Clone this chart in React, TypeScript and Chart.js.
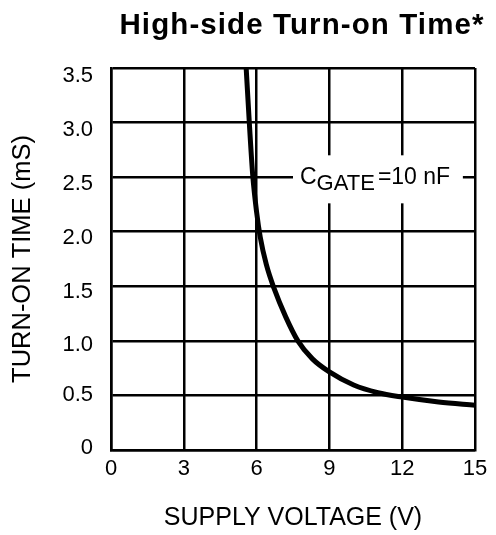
import React, { useEffect, useRef } from "react";
import { Chart, registerables } from "chart.js";

Chart.register(...registerables);

const FONT = '"Liberation Sans", Arial, Helvetica, sans-serif';

// Data
const supplyVoltage = [5.57, 5.71, 5.84, 6.0, 6.15, 6.4, 6.72, 7.2, 7.7, 8.3, 9.0, 10.0, 11.0, 12.0, 13.5, 15.0];
const turnOnTime = [3.5, 2.96, 2.52, 2.18, 1.95, 1.7, 1.48, 1.22, 1.0, 0.835, 0.715, 0.595, 0.525, 0.485, 0.44, 0.41];

const xTickValues = [0, 3, 6, 9, 12, 15];
const xTickLabels = ["0", "3", "6", "9", "12", "15"];
const yTickValues = [0, 0.5, 1.0, 1.5, 2.0, 2.5, 3.0, 3.5];
const yTickLabels = ["0", "0.5", "1.0", "1.5", "2.0", "2.5", "3.0", "3.5"];
// vertical nudge of each y tick label (px, + = down), as seen in the reference
const yLabelNudge = [-2, 0, 4, 5.5, 6.5, 7, 7.5, 7.5];

const TITLE = "High-side Turn-on Time*";
const X_TITLE = "SUPPLY VOLTAGE (V)";
const Y_TITLE = "TURN-ON TIME (mS)";

// annotation box in data units
const noteX = [7.5, 14.5];
const noteY = [2.26, 2.7];
const noteMain = "C";
const noteSub = "GATE";
const noteRest = "=10 nF";

const titlePlugin = {
  id: "customTitle",
  afterDraw(chart: any) {
    const ctx = chart.ctx;
    const { left, right } = chart.chartArea;
    ctx.save();
    ctx.font = `bold 29.5px ${FONT}`;
    try {
      ctx.letterSpacing = "1.1px";
    } catch (e) {}
    ctx.fillStyle = "#000";
    ctx.textAlign = "left";
    ctx.textBaseline = "alphabetic";
    const w = ctx.measureText(TITLE).width;
    const cx = (left + right) / 2 + 9;
    ctx.fillText(TITLE, cx - w / 2, 34);
    ctx.restore();
  },
};

const notePlugin = {
  id: "note",
  beforeDatasetsDraw(chart: any) {
    const ctx = chart.ctx;
    const xs = chart.scales.x;
    const ys = chart.scales.y;
    const x0 = xs.getPixelForValue(noteX[0]);
    const x1 = xs.getPixelForValue(noteX[1]);
    const y0 = ys.getPixelForValue(noteY[1]);
    const y1 = ys.getPixelForValue(noteY[0]);
    ctx.save();
    ctx.fillStyle = "#fff";
    ctx.fillRect(x0, y0, x1 - x0, y1 - y0);
    ctx.fillStyle = "#000";
    ctx.textBaseline = "alphabetic";
    ctx.textAlign = "left";
    const base = y1 - 19.5;
    let x = x0 + 7;
    ctx.font = `23px ${FONT}`;
    ctx.fillText(noteMain, x, base);
    x += ctx.measureText(noteMain).width;
    ctx.font = `22px ${FONT}`;
    ctx.fillText(noteSub, x, base + 6.5);
    x += ctx.measureText(noteSub).width + 3;
    ctx.font = `23px ${FONT}`;
    ctx.fillText(noteRest, x, base);
    ctx.restore();
  },
};

export default function App() {
  const ref = useRef<HTMLCanvasElement | null>(null);

  useEffect(() => {
    if (!ref.current) return;
    const chart = new Chart(ref.current, {
      type: "line",
      data: {
        datasets: [
          {
            data: supplyVoltage.map((v, i) => ({ x: v, y: turnOnTime[i] })),
            borderColor: "#000",
            borderWidth: 5,
            pointRadius: 0,
            fill: false,
            cubicInterpolationMode: "monotone",
            borderCapStyle: "butt",
          },
        ],
      },
      options: {
        responsive: false,
        animation: false,
        devicePixelRatio: 1,
        layout: { padding: { top: 68, right: 21, left: 0, bottom: 0 } },
        plugins: {
          legend: { display: false },
          tooltip: { enabled: false },
          title: { display: false },
        },
        scales: {
          x: {
            type: "linear",
            min: 0,
            max: 15,
            afterBuildTicks: (s: any) => {
              s.ticks = xTickValues.map((v) => ({ value: v }));
            },
            afterFit: (s: any) => {
              s.height = 85;
            },
            ticks: {
              autoSkip: false,
              maxRotation: 0,
              padding: 6,
              color: "#000",
              font: { family: FONT, size: 22 },
              callback: (_v: any, i: number) => xTickLabels[i],
            },
            grid: { color: "#000", lineWidth: 2.5, drawTicks: false },
            border: { color: "#000", width: 2.5 },
            title: {
              display: true,
              text: X_TITLE,
              color: "#000",
              font: { family: FONT, size: 25 },
              padding: { top: 0, bottom: 2 },
            },
          },
          y: {
            type: "linear",
            min: 0,
            max: 3.5,
            afterBuildTicks: (s: any) => {
              s.ticks = yTickValues.map((v) => ({ value: v }));
            },
            afterFit: (s: any) => {
              s.width = 111;
            },
            ticks: {
              autoSkip: false,
              padding: 18,
              color: "#000",
              font: (c: any) => {
                const n = Math.abs(yLabelNudge[c.index] || 0);
                return { family: FONT, size: 22, lineHeight: n > 0 ? `${2 * n}px` : 1.2 };
              },
              callback: (_v: any, i: number) => {
                const n = yLabelNudge[i] || 0;
                const t = yTickLabels[i];
                if (n > 0) return ["", t];
                if (n < 0) return [t, ""];
                return t;
              },
            },
            grid: { color: "#000", lineWidth: 2.5, drawTicks: false },
            border: { color: "#000", width: 2.5 },
            title: {
              display: true,
              text: Y_TITLE,
              color: "#000",
              font: { family: FONT, size: 25.5 },
              padding: { top: 8, bottom: 0 },
            },
          },
        },
      },
      plugins: [notePlugin, titlePlugin],
    } as any);
    return () => chart.destroy();
  }, []);

  return (
    <div style={{ position: "absolute", left: 0, top: 0, width: 496, height: 535, background: "#fff" }}>
      <canvas ref={ref} width={496} height={535} style={{ width: 496, height: 535 }} />
    </div>
  );
}
